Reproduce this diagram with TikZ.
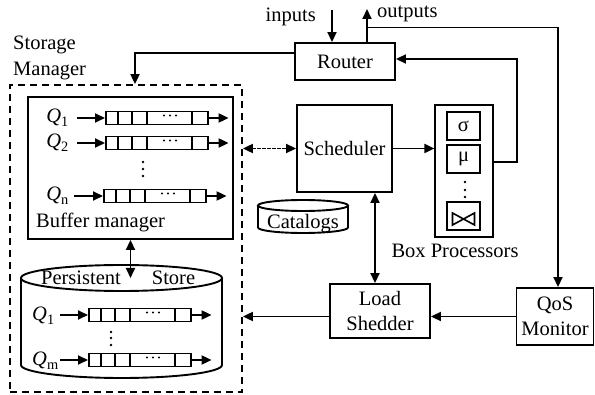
\documentclass[tikz,border=0pt]{standalone}
\usepackage{fontspec}
\setmainfont{Liberation Serif}
\usetikzlibrary{arrows.meta,calc}
\tikzset{
  qtip/.tip={Triangle[length=10pt,width=9pt]},
  lw/.style={line width=1.9pt},
  box/.style={draw,line width=1.9pt,inner sep=0pt,align=center},
  thinbox/.style={draw,line width=1.2pt,inner sep=0pt},
  opbox/.style={draw,line width=1.9pt,inner sep=0pt,minimum width=33pt,minimum height=28pt},
  arr/.style={line width=1.9pt,-qtip},
  darr/.style={line width=1.9pt,qtip-qtip},
  lbl/.style={inner sep=0pt},
  queue/.pic={
    \node[draw,line width=1.6pt,minimum width=102pt,minimum height=13pt,inner sep=0pt,anchor=west] (-box) at (0,0) {};
    \foreach \d in {13,27,42,87} \draw[line width=1.6pt] (\d,-6.5) -- (\d,6.5);
    \foreach \d in {59,65,71} \fill (\d,2.5) circle[radius=1.2pt];
  }
}
\begin{document}
\begin{tikzpicture}[x=1pt,y=1pt,font=\fontsize{20.5}{25}\selectfont]
\fill[white] (0,0) rectangle (595,394);
\useasboundingbox (0,0) rectangle (595,394);

% ---------- storage manager ----------
\node[lbl,anchor=base west] (smlabel1) at (13,344) {Storage};
\node[lbl,anchor=base west] (smlabel2) at (13,318) {Manager};
\node[draw,line width=1.8pt,dash pattern=on 7pt off 5pt,inner sep=0pt,
      minimum width=232pt,minimum height=307pt] (sm) at (126,155.5) {};

% buffer manager with in-memory queues
\node[box,minimum width=205pt,minimum height=142pt] (buf) at (130.5,226) {};
\node[lbl,anchor=base west] (buflabel) at (36,166) {Buffer manager};

\pic (qa) at (105,276) {queue};
\pic (qb) at (105,251) {queue};
\pic (qc) at (103,198) {queue};
\node[lbl,anchor=base east] (la) at (69,271) {\textit{Q}\textsubscript{1}};
\node[lbl,anchor=base east] (lb) at (69,246) {\textit{Q}\textsubscript{2}};
\node[lbl,anchor=base east] (lc) at (69,193) {\textit{Q}\textsubscript{n}};
\foreach \q/\s in {qa/28,qb/28,qc/29}{
  \draw[arr] ([xshift=-\s pt]\q-box.west) -- (\q-box.west);
  \draw[arr] (\q-box.east) -- ++(20,0);
}
\foreach \y in {232,225,218} \fill (143,\y) circle[radius=1.4pt];

% persistent store cylinder
\coordinate (pstop) at (121.5,116);
\draw[lw] (pstop) ellipse[x radius=100.5pt,y radius=13pt];
\draw[lw] (21,116) -- (21,29) arc[start angle=180,end angle=360,x radius=100.5pt,y radius=13pt] -- (222,116);
\node[lbl,anchor=base] (pers) at (81,109) {Persistent};
\node[lbl,anchor=base] (store) at (173.5,109) {Store};

\pic (pa) at (88,79) {queue};
\pic (pb) at (88,34) {queue};
\node[lbl,anchor=base west] (lpa) at (32,73) {\textit{Q}\textsubscript{1}};
\node[lbl,anchor=base west] (lpb) at (32,28) {\textit{Q}\textsubscript{m}};
\foreach \q in {pa,pb}{
  \draw[arr] ([xshift=-28pt]\q-box.west) -- (\q-box.west);
  \draw[arr] (\q-box.east) -- ++(20,0);
}
\foreach \y in {62,56,49} \fill (111,\y) circle[radius=1.4pt];

\draw[darr] (buf.south) -- (buf.south |- pstop);

% ---------- router ----------
\node[box,minimum width=100pt,minimum height=37pt] (router) at (345,332.5) {Router};
\coordinate (intop) at (332,384);
\coordinate (outtop) at (367,385);
\coordinate (branch) at (367,366.5);
\node[lbl,anchor=base east] (inlabel) at (316,372) {inputs};
\node[lbl,anchor=base west] (outlabel) at (377,376) {outputs};
\draw[arr] (intop) -- ([xshift=-13pt]router.north);
\draw[arr] ([xshift=22pt]router.north) -- (outtop);

% ---------- scheduler, catalogs, box processors ----------
\node[box,minimum width=95pt,minimum height=87pt] (sched) at (344.5,245.5) {Scheduler};

\node[lbl,anchor=base] (cat) at (303,165) {Catalogs};
\draw[lw] (303,188.5) ellipse[x radius=45pt,y radius=5.5pt];
\draw[lw] (258,188.5) -- (258,166.5) arc[start angle=180,end angle=360,x radius=45pt,y radius=5.5pt] -- (348,188.5);

\node[thinbox,minimum width=58pt,minimum height=132pt] (bp) at (464,223) {};
\node[opbox] (sigma) at (463.5,268) {σ};
\node[opbox] (mu) at (463.5,235) {μ};
\node[opbox] (bt) at (463.5,178) {};
\draw[line width=1.6pt,line join=miter,shift={(bt.center)}]
  (-11,3) -- (0,-3) -- (11,3) -- (11,-9) -- (0,-3) -- (-11,-9) -- cycle;
\foreach \y in {212,204,197} \fill (465,\y) circle[radius=1.4pt];
\node[lbl,anchor=base] (bplabel) at (455,136) {Box Processors};

% ---------- load shedder, QoS monitor ----------
\node[box,minimum width=100pt,minimum height=54pt] (ls) at (380,83) {Load\\Shedder};
\node[box,minimum width=77pt,minimum height=57pt] (qos) at (555,77.5) {QoS\\Monitor};

% ---------- connectors ----------
\draw[arr] ([yshift=8.5pt]router.west) -| ([xshift=9pt]sm.north);
\draw[arr] ([yshift=9pt]bp.east) -- ++(23,0) |- ([yshift=2.5pt]router.east);
\draw[arr] (branch) -| ([xshift=3pt]qos.north);
\draw[darr,dash pattern=on 4pt off 1pt] (sm.east |- sched.west) -- (sched.west);
\draw[arr] (sched.east) -- (sched.east -| bp.west);
\draw[darr] ([xshift=30.5pt]sched.south) -- ([xshift=30.5pt]sched.south |- ls.north);
\draw[arr] (qos.west) -- (qos.west -| ls.east);
\draw[arr] (qos.west -| ls.west) -- (qos.west -| sm.east);
\end{tikzpicture}
\end{document}
